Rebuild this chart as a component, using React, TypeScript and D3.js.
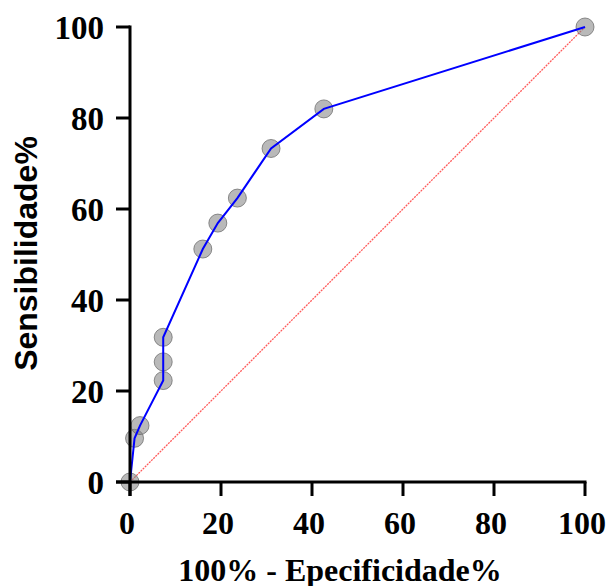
import React from "react";
import * as d3 from "d3";

const fpr: number[] = [0, 1, 2.2, 7.3, 7.3, 7.3, 16, 19.3, 23.6, 31, 42.6, 100];
const tpr: number[] = [0, 9.6, 12.4, 22.3, 26.4, 31.8, 51.2, 56.9, 62.4, 73.3, 82, 100];
const xTicks: number[] = [0, 20, 40, 60, 80, 100];
const yTicks: number[] = [0, 20, 40, 60, 80, 100];
const xTitle = "100% - Epecificidade%";
const yTitle = "Sensibilidade%";

export default function App() {
  const W = 611, H = 586;
  const x = d3.scaleLinear().domain([0, 100]).range([130, 585]);
  const y = d3.scaleLinear().domain([0, 100]).range([482, 27]);
  const pts = fpr.map((v, i) => [v, tpr[i]] as [number, number]);
  const line = d3.line<[number, number]>().x(d => x(d[0])).y(d => y(d[1]));
  const serif = "'Liberation Serif', 'Times New Roman', serif";
  const sans = "'Liberation Sans', Arial, sans-serif";
  return (
    <svg width={W} height={H} style={{ position: "absolute", left: 0, top: 0 }}>
      <rect width={W} height={H} fill="white" />
      {/* diagonal reference */}
      <line x1={x(0)} y1={y(0)} x2={x(100)} y2={y(100)} stroke="#ff5a5a" strokeWidth={1.3} strokeDasharray="2,1" />
      {/* points */}
      {pts.map((p, i) => (
        <circle key={i} cx={x(p[0])} cy={y(p[1])} r={9} fill="rgba(128,128,128,0.55)" stroke="rgba(100,100,100,0.7)" strokeWidth={1} />
      ))}
      {/* ROC line */}
      <path d={line(pts) || ""} fill="none" stroke="#0000ff" strokeWidth={2} />
      {/* axes */}
      <line x1={x(0)} y1={y(100) - 1.5} x2={x(0)} y2={y(0) + 14} stroke="black" strokeWidth={3} />
      <line x1={x(0) - 14} y1={y(0)} x2={x(100) + 1.5} y2={y(0)} stroke="black" strokeWidth={3} />
      {yTicks.map(t => (
        <g key={"y" + t}>
          <line x1={x(0) - 14} x2={x(0)} y1={y(t)} y2={y(t)} stroke="black" strokeWidth={3} />
          <text x={104} y={y(t)} dy="0.35em" textAnchor="end" fontFamily={serif} fontWeight="bold" fontSize={33}>{t}</text>
        </g>
      ))}
      {xTicks.map(t => (
        <g key={"x" + t}>
          <line x1={x(t)} x2={x(t)} y1={y(0)} y2={y(0) + 14} stroke="black" strokeWidth={3} />
          <text x={x(t) - 3} y={534} textAnchor="middle" fontFamily={serif} fontWeight="bold" fontSize={32}>{t}</text>
        </g>
      ))}
      <text x={340} y={581} textAnchor="middle" fontFamily={serif} fontWeight="bold" fontSize={32}>{xTitle}</text>
      <text transform={`translate(37,253.5) rotate(-90)`} textAnchor="middle" fontFamily={sans} fontWeight="bold" fontSize={32}>{yTitle}</text>
    </svg>
  );
}
